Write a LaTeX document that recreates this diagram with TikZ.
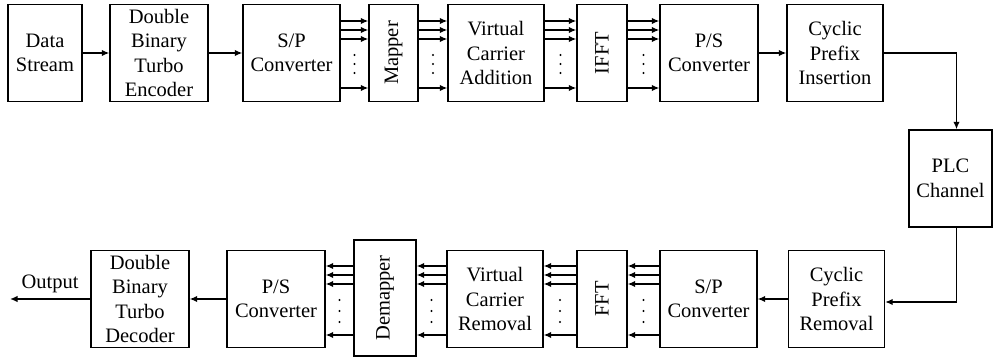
\documentclass[tikz,border=0pt]{standalone}
\usepackage{fontspec}
\setmainfont{Liberation Serif}
\usepackage{graphicx}
\usetikzlibrary{arrows.meta,calc}

\begin{document}
\begin{tikzpicture}[x=1pt,y=-1pt,
    blk/.style={draw, line width=1.4pt, align=center, inner sep=0pt,
      minimum height=97pt, font=\fontsize{20.5}{24.5}\selectfont},
    arr/.style={line width=1.4pt, -{Latex[length=7.5pt,width=6.5pt]}}]
  \useasboundingbox (0,0) rectangle (998,358);

  % transmitter
  \node[blk, minimum width=74pt] (ds) at (45,53) {Data\\Stream};
  \node[blk, minimum width=98pt] (enc) at (159,53) {Double\\Binary\\Turbo\\Encoder};
  \node[blk, minimum width=97pt] (sp) at (291.5,53) {S/P\\Converter};
  \node[blk, minimum width=49pt] (map) at (393.5,53) {\rotatebox{90}{Mapper}};
  \node[blk, minimum width=96pt] (vca) at (496,53) {Virtual\\Carrier\\Addition};
  \node[blk, minimum width=50pt] (ifft) at (602,53) {\rotatebox{90}{IFFT}};
  \node[blk, minimum width=98pt] (ps) at (709,53) {P/S\\Converter};
  \node[blk, minimum width=96pt] (cpi) at (835,53) {Cyclic\\Prefix\\Insertion};

  % channel
  \node[blk, minimum width=83pt] (plc) at (950.5,178.5) {PLC\\Channel};

  % receiver
  \node[blk, minimum width=96pt] (cpr) at (836.5,299) {Cyclic\\Prefix\\Removal};
  \node[blk, minimum width=97pt] (sp2) at (708.5,299) {S/P\\Converter};
  \node[blk, minimum width=50pt] (fft) at (602,299) {\rotatebox{90}{FFT}};
  \node[blk, minimum width=96pt] (vcr) at (495,299) {Virtual\\Carrier\\Removal};
  \node[blk, minimum width=62pt, minimum height=116pt] (dem) at (385,298) {\rotatebox{90}{Demapper}};
  \node[blk, minimum width=98pt] (ps2) at (276,299) {P/S\\Converter};
  \node[blk, minimum width=98pt] (dec) at (140,299) {Double\\Binary\\Turbo\\Decoder};
  \coordinate (out) at (10,299);
  \node[font=\fontsize{20.5}{24.5}\selectfont] (outlbl) at (50,284) {Output};

  \draw[arr] (ds) -- (enc);
  \draw[arr] (enc) -- (sp);
  \draw[arr] (ps) -- (cpi);
  \draw[arr] (cpi.east) -| ([xshift=6pt]plc.north);
  \draw[arr] ([xshift=6pt]plc.south) |- ([yshift=-3pt]cpr.east);
  \draw[arr] (cpr) -- (sp2);
  \draw[arr] (ps2) -- (dec);
  \draw[arr] (dec) -- (out);

  % parallel streams
  \foreach \a/\b in {sp/map, map/vca, vca/ifft, ifft/ps}{
    \path (\a.east) -- (\b.west) coordinate[pos=0.5] (m);
    \foreach \y in {21,30,39,88}
      \draw[arr] (\a.east |- 0,\y) -- (\b.west |- 0,\y);
    \foreach \y in {55,64,73}
      \fill (m |- 0,\y) circle (1.2pt);
  }
  \foreach \a/\b in {sp2/fft, fft/vcr, vcr/dem, dem/ps2}{
    \path (\a.west) -- (\b.east) coordinate[pos=0.5] (m);
    \foreach \y in {266,275,284,335}
      \draw[arr] (\a.west |- 0,\y) -- (\b.east |- 0,\y);
    \foreach \y in {300,311,322}
      \fill (m |- 0,\y) circle (1.2pt);
  }
\end{tikzpicture}
\end{document}
